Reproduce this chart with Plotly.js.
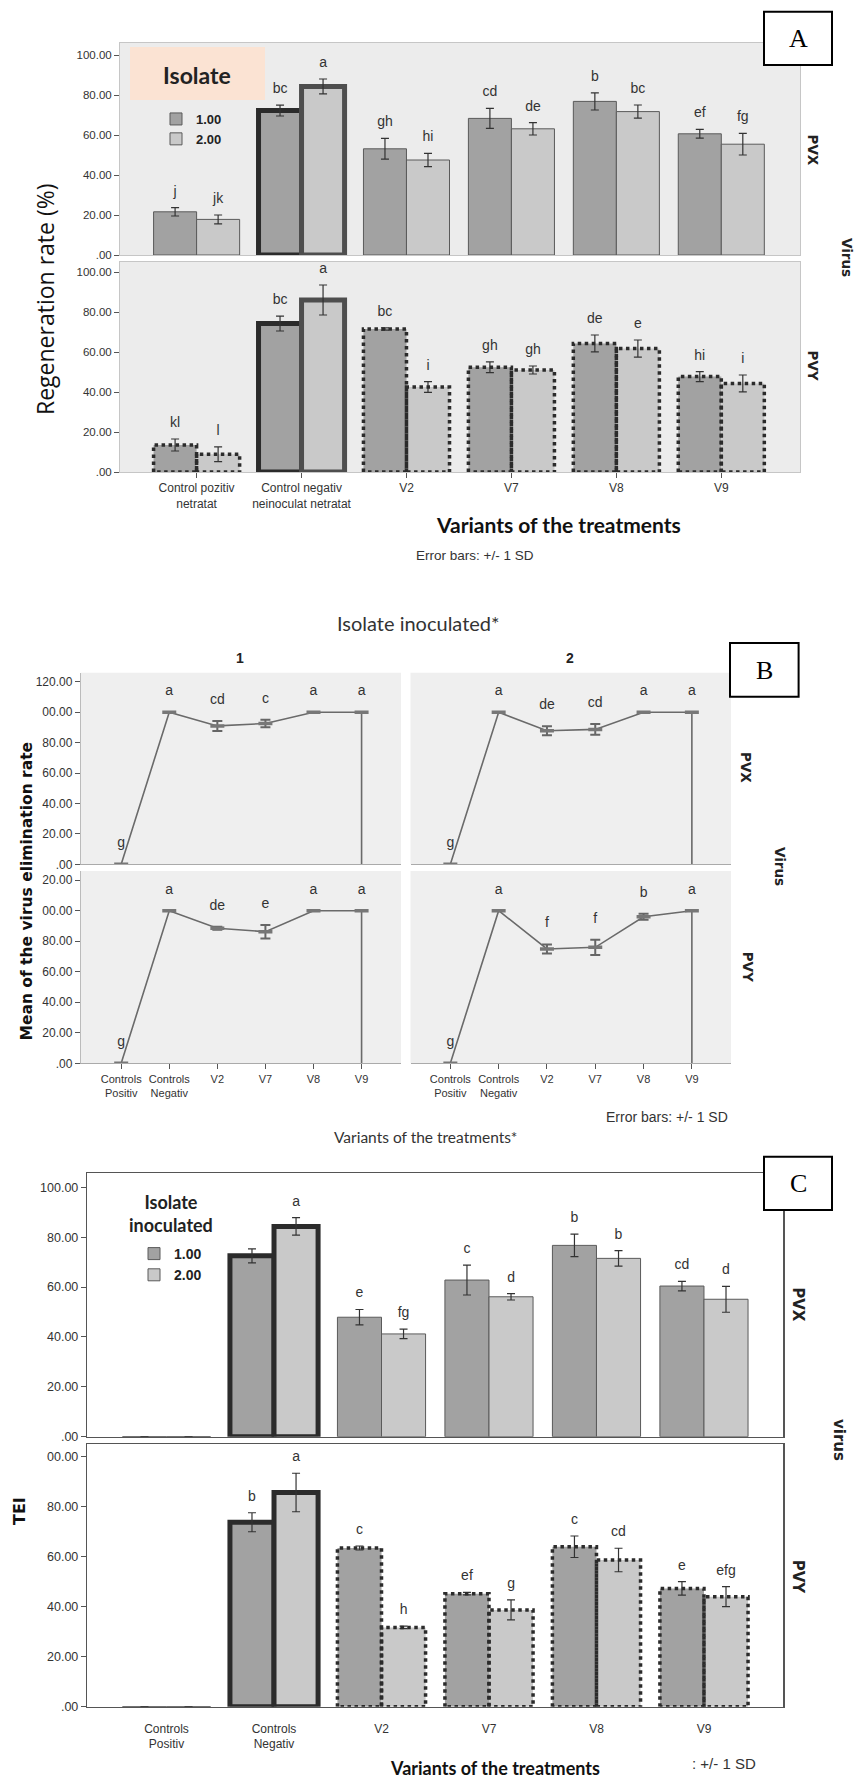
<!DOCTYPE html>
<html><head><meta charset="utf-8">
<script src="https://cdn.plot.ly/plotly-3.0.1.min.js"></script>
<style>html,body{margin:0;padding:0;background:#fff}#chart{width:856px;height:1778px}</style>
</head><body><div id="chart"></div>
<script>
// ---------------- DATA ----------------
const categoriesA = ['Control pozitiv<br>netratat', 'Control negativ<br>neinoculat netratat', 'V2', 'V7', 'V8', 'V9'];
const categoriesBC = ['Controls<br>Positiv', 'Controls<br>Negativ', 'V2', 'V7', 'V8', 'V9'];
const isolateNames = ['1.00', '2.00'];

// Panel A: Regeneration rate (%)
const regenPVX_iso1 = [21.6, 72.2, 53.1, 68.3, 76.8, 60.6];
const regenPVX_iso1_sd = [2.1, 2.7, 5.2, 5.0, 4.3, 2.2];
const regenPVX_iso2 = [17.8, 84.3, 47.5, 63.1, 71.7, 55.4];
const regenPVX_iso2_sd = [2.2, 3.7, 3.3, 3.1, 3.3, 5.4];
const regenPVX_letters1 = ['j', 'bc', 'gh', 'cd', 'b', 'ef'];
const regenPVX_letters2 = ['jk', 'a', 'hi', 'de', 'bc', 'fg'];

const regenPVY_iso1 = [13.5, 74.2, 71.5, 52.4, 64.3, 47.7];
const regenPVY_iso1_sd = [3.0, 3.7, 0.6, 2.7, 4.2, 2.5];
const regenPVY_iso2 = [8.9, 86.0, 42.5, 51.0, 61.7, 44.3];
const regenPVY_iso2_sd = [3.7, 7.5, 2.7, 2.0, 4.3, 4.2];
const regenPVY_letters1 = ['kl', 'bc', 'bc', 'gh', 'de', 'hi'];
const regenPVY_letters2 = ['l', 'a', 'i', 'gh', 'e', 'i'];

// Panel B: Mean of the virus elimination rate
const elimPVX_iso1 = [0, 100, 91.0, 92.6, 100, 100];
const elimPVX_iso1_sd = [0, 0, 3.3, 2.4, 0, 0];
const elimPVX_iso2 = [0, 100, 87.8, 88.7, 100, 100];
const elimPVX_iso2_sd = [0, 0, 3.0, 3.5, 0, 0];
const elimPVY_iso1 = [0, 100, 88.5, 86.2, 100, 100];
const elimPVY_iso1_sd = [0, 0, 1.0, 4.4, 0, 0];
const elimPVY_iso2 = [0, 100, 74.9, 76.0, 96.0, 100];
const elimPVY_iso2_sd = [0, 0, 3.0, 5.0, 2.0, 0];
const elimPVX_letters1 = ['g', 'a', 'cd', 'c', 'a', 'a'];
const elimPVX_letters2 = ['g', 'a', 'de', 'cd', 'a', 'a'];
const elimPVY_letters1 = ['g', 'a', 'de', 'e', 'a', 'a'];
const elimPVY_letters2 = ['g', 'a', 'f', 'f', 'b', 'a'];

// Panel C: TEI
const teiPVX_iso1 = [0, 72.5, 47.9, 62.8, 76.7, 60.4];
const teiPVX_iso1_sd = [0, 2.8, 3.1, 6.0, 4.5, 1.9];
const teiPVX_iso2 = [0, 84.3, 41.2, 56.1, 71.5, 55.1];
const teiPVX_iso2_sd = [0, 3.5, 1.9, 1.3, 3.1, 5.2];
const teiPVX_letters1 = ['', '', 'e', 'c', 'b', 'cd'];
const teiPVX_letters2 = ['', 'a', 'fg', 'd', 'b', 'd'];
const teiPVY_iso1 = [0, 73.8, 63.5, 45.2, 64.0, 47.3];
const teiPVY_iso1_sd = [0, 3.8, 0.8, 0.5, 4.3, 2.7];
const teiPVY_iso2 = [0, 85.7, 31.7, 38.7, 58.7, 44.0];
const teiPVY_iso2_sd = [0, 7.7, 0.5, 4.0, 4.7, 4.0];
const teiPVY_letters1 = ['', 'b', 'c', 'ef', 'c', 'e'];
const teiPVY_letters2 = ['', 'a', 'h', 'g', 'cd', 'efg'];

// Axis tick labels
const yTicksA = [0, 20, 40, 60, 80, 100];
const yTickTextA = ['.00', '20.00', '40.00', '60.00', '80.00', '100.00'];
const yTicksB = [0, 20, 40, 60, 80, 100, 120];
const yTickTextBTop = ['.00', '20.00', '40.00', '60.00', '80.00', '00.00', '120.00'];
const yTickTextBBottom = ['.00', '20.00', '40.00', '60.00', '80.00', '00.00', '20.00'];
const yTickTextCTop = ['.00', '20.00', '40.00', '60.00', '80.00', '100.00'];
const yTickTextCBottom = ['.00', '20.00', '40.00', '60.00', '80.00', '00.00'];

// ---------------- STYLE / HELPERS ----------------
const W = 856, H = 1778;
const px = v => v / W;
const py = v => 1 - v / H;
const BW = 0.41;
const idx = categoriesA.map((_, i) => i);
const FILL = ['#a2a2a2', '#c9c9c9'];
const LS = 'Liberation Sans, Arial, sans-serif';
const DJB = 'DejaVu Sans, Verdana, sans-serif';

function letterTrace(xa, ya, xs, ys, letters, gap) {
  return {type: 'scatter', mode: 'markers+text', x: xs, y: ys, text: letters, textposition: 'top center',
    marker: {size: gap, color: 'rgba(0,0,0,0)'},
    textfont: {family: LS, size: 14, color: '#333'}, xaxis: xa, yaxis: ya, showlegend: false, hoverinfo: 'skip'};
}

function barPanel(xa, ya, series, opts) {
  const traces = [];
  series.forEach((s, k) => {
    const off = k === 0 ? -BW : 0;
    const lw = idx.map(i => opts.thick.includes(i) ? 5 : (opts.dotted.includes(i) ? 0 : 1));
    const lc = idx.map(i => opts.thick.includes(i) ? opts.thickColor[k] : '#5a5a5a');
    traces.push({
      type: 'bar', x: idx, y: s.vals, xaxis: xa, yaxis: ya, offset: off, width: BW, name: s.name,
      marker: {color: FILL[k], line: {color: lc, width: lw}},
      error_y: {type: 'data', array: s.sd, visible: true, color: '#333', thickness: 1.2, width: 4},
      showlegend: !!opts.legend, legend: opts.legend || 'legend', hoverinfo: 'skip'
    });
  });
  series.forEach((s, k) => {
    const xs = [], ys = [];
    opts.dotted.forEach(i => {
      const x0 = i + (k === 0 ? -BW : 0), x1 = x0 + BW, v = s.vals[i];
      xs.push(x0, x0, x1, x1, x0, null);
      ys.push(0, v, v, 0, 0, null);
    });
    if (xs.length) traces.push({
      type: 'scatter', mode: 'lines', x: xs, y: ys, xaxis: xa, yaxis: ya,
      line: {color: '#2b2b2b', width: 3.5, dash: 'dot'}, showlegend: false, hoverinfo: 'skip'
    });
  });
  series.forEach((s, k) => {
    traces.push(letterTrace(xa, ya, idx.map(i => i + (k === 0 ? -BW / 2 : BW / 2)),
      s.vals.map((v, i) => v + s.sd[i]), s.letters, 12));
  });
  return traces;
}

function linePanel(xa, ya, vals, sd, letters) {
  const last = idx.length - 1;
  return [
    {type: 'scatter', mode: 'lines', x: [idx[last], idx[last]], y: [vals[last], 0], xaxis: xa, yaxis: ya,
     line: {color: '#6a6a6a', width: 1.6}, showlegend: false, hoverinfo: 'skip'},
    {type: 'scatter', mode: 'lines+markers', x: idx, y: vals, xaxis: xa, yaxis: ya,
     line: {color: '#6a6a6a', width: 1.6},
     marker: {symbol: 'line-ew', size: 10, color: '#777', line: {color: '#777', width: 3.5}},
     error_y: {type: 'data', array: sd, visible: true, color: '#666', thickness: 2, width: 5},
     showlegend: false, hoverinfo: 'skip'},
    letterTrace(xa, ya, idx, vals.map((v, i) => v + sd[i]), letters, 20)
  ];
}

const traces = [].concat(
  barPanel('x', 'y', [
    {vals: regenPVX_iso1, sd: regenPVX_iso1_sd, letters: regenPVX_letters1, name: isolateNames[0]},
    {vals: regenPVX_iso2, sd: regenPVX_iso2_sd, letters: regenPVX_letters2, name: isolateNames[1]}
  ], {thick: [1], dotted: [], thickColor: ['#2b2b2b', '#4e4e4e'], legend: 'legend'}),
  barPanel('x2', 'y2', [
    {vals: regenPVY_iso1, sd: regenPVY_iso1_sd, letters: regenPVY_letters1, name: isolateNames[0]},
    {vals: regenPVY_iso2, sd: regenPVY_iso2_sd, letters: regenPVY_letters2, name: isolateNames[1]}
  ], {thick: [1], dotted: [0, 2, 3, 4, 5], thickColor: ['#2b2b2b', '#4e4e4e']}),
  linePanel('x3', 'y3', elimPVX_iso1, elimPVX_iso1_sd, elimPVX_letters1),
  linePanel('x4', 'y4', elimPVX_iso2, elimPVX_iso2_sd, elimPVX_letters2),
  linePanel('x5', 'y5', elimPVY_iso1, elimPVY_iso1_sd, elimPVY_letters1),
  linePanel('x6', 'y6', elimPVY_iso2, elimPVY_iso2_sd, elimPVY_letters2),
  barPanel('x7', 'y7', [
    {vals: teiPVX_iso1, sd: teiPVX_iso1_sd, letters: teiPVX_letters1, name: isolateNames[0]},
    {vals: teiPVX_iso2, sd: teiPVX_iso2_sd, letters: teiPVX_letters2, name: isolateNames[1]}
  ], {thick: [1], dotted: [], thickColor: ['#2b2b2b', '#2b2b2b'], legend: 'legend2'}),
  barPanel('x8', 'y8', [
    {vals: teiPVY_iso1, sd: teiPVY_iso1_sd, letters: teiPVY_letters1, name: isolateNames[0]},
    {vals: teiPVY_iso2, sd: teiPVY_iso2_sd, letters: teiPVY_letters2, name: isolateNames[1]}
  ], {thick: [1], dotted: [2, 3, 4, 5], thickColor: ['#2b2b2b', '#2b2b2b']})
);

// ---------------- AXES ----------------
function xAx(d0, d1, range, anchor, o) {
  return Object.assign({domain: [px(d0), px(d1)], range: range, anchor: anchor, tickvals: idx,
    showgrid: false, zeroline: false, fixedrange: true, ticks: '', showticklabels: false}, o || {});
}
function yAx(top, bot, range, anchor, o) {
  return Object.assign({domain: [py(bot), py(top)], range: range, anchor: anchor,
    showgrid: false, zeroline: false, fixedrange: true, ticks: 'outside', ticklen: 5, tickcolor: '#555'}, o || {});
}
const tickFontA = {family: LS, size: 11.5, color: '#333'};
const tickFontB = {family: LS, size: 12, color: '#333'};
const tickFontC = {family: LS, size: 12.5, color: '#333'};
const frameA = {showline: true, mirror: true, linecolor: '#c6c6c6', linewidth: 1};
const frameC = {showline: true, mirror: true, linecolor: '#555', linewidth: 1.5};

const layout = {
  width: W, height: H, margin: {l: 0, r: 0, t: 0, b: 0},
  paper_bgcolor: '#fff', plot_bgcolor: 'rgba(0,0,0,0)', barmode: 'overlay', showlegend: true,
  font: {family: LS, color: '#333'},
  xaxis: xAx(120, 800, [-0.73, 5.75], 'y', frameA),
  yaxis: yAx(43, 255, [0, 106], 'x', Object.assign({tickvals: yTicksA, ticktext: yTickTextA, tickfont: tickFontA}, frameA)),
  xaxis2: xAx(120, 800, [-0.73, 5.75], 'y2', Object.assign({ticks: 'outside', ticklen: 5, tickcolor: '#555',
    showticklabels: true, ticktext: categoriesA, tickfont: {family: LS, size: 12, color: '#333'}}, frameA)),
  yaxis2: yAx(262, 472, [0, 105], 'x2', Object.assign({tickvals: yTicksA, ticktext: yTickTextA, tickfont: tickFontA}, frameA)),

  xaxis3: xAx(80.8, 401, [-0.84, 5.82], 'y3', {showline: true, linecolor: '#aaa'}),
  yaxis3: yAx(672.7, 864.3, [0, 126], 'x3', {tickvals: yTicksB, ticktext: yTickTextBTop, tickfont: tickFontB, showline: true, linecolor: '#bbb'}),
  xaxis4: xAx(410.5, 731, [-0.825, 5.81], 'y4', {showline: true, linecolor: '#aaa'}),
  yaxis4: yAx(672.7, 864.3, [0, 126], 'x4', {ticks: '', showticklabels: false}),
  xaxis5: xAx(80.8, 401, [-0.84, 5.82], 'y5', {showline: true, linecolor: '#aaa', ticks: 'outside', ticklen: 5,
    tickcolor: '#555', showticklabels: true, ticktext: categoriesBC, tickfont: {family: LS, size: 11, color: '#333'}}),
  yaxis5: yAx(871, 1063.3, [0, 126], 'x5', {tickvals: yTicksB, ticktext: yTickTextBBottom, tickfont: tickFontB, showline: true, linecolor: '#bbb'}),
  xaxis6: xAx(410.5, 731, [-0.825, 5.81], 'y6', {showline: true, linecolor: '#aaa', ticks: 'outside', ticklen: 5,
    tickcolor: '#555', showticklabels: true, ticktext: categoriesBC, tickfont: {family: LS, size: 11, color: '#333'}}),
  yaxis6: yAx(871, 1063.3, [0, 126], 'x6', {ticks: '', showticklabels: false}),

  xaxis7: xAx(87.3, 783.3, [-0.737, 5.738], 'y7', frameC),
  yaxis7: yAx(1173.3, 1436.7, [0, 105.6], 'x7', Object.assign({tickvals: yTicksA, ticktext: yTickTextCTop, tickfont: tickFontC}, frameC)),
  xaxis8: xAx(87.3, 783.3, [-0.737, 5.738], 'y8', Object.assign({showticklabels: true, ticktext: categoriesBC,
    ticklabelstandoff: 10, tickfont: {family: LS, size: 12, color: '#333'}}, frameC)),
  yaxis8: yAx(1444, 1706.7, [0, 105.1], 'x8', Object.assign({tickvals: yTicksA, ticktext: yTickTextCBottom, tickfont: tickFontC}, frameC)),

  legend: {x: px(156), y: py(104), xanchor: 'left', yanchor: 'top', bgcolor: 'rgba(0,0,0,0)',
    font: {family: LS, size: 13, color: '#222', weight: 'bold'}, tracegroupgap: 0, itemclick: false, itemdoubleclick: false},
  legend2: {x: px(134), y: py(1238), xanchor: 'left', yanchor: 'top', bgcolor: 'rgba(0,0,0,0)',
    font: {family: LS, size: 14, color: '#222', weight: 'bold'}, tracegroupgap: 0, itemclick: false, itemdoubleclick: false},
  shapes: [], annotations: []
};

// panel backgrounds
[['x', 'y', '#ececec'], ['x2', 'y2', '#ececec'], ['x3', 'y3', '#efefef'], ['x4', 'y4', '#efefef'],
 ['x5', 'y5', '#efefef'], ['x6', 'y6', '#efefef']].forEach(([xa, ya, c]) => {
  layout.shapes.push({type: 'rect', xref: xa + ' domain', yref: ya + ' domain', x0: 0, x1: 1, y0: 0, y1: 1,
    fillcolor: c, line: {width: 0}, layer: 'below'});
});
function box(x0, y0, x1, y1, fill, lineW, lineC) {
  layout.shapes.push({type: 'rect', xref: 'paper', yref: 'paper', x0: px(x0), x1: px(x1), y0: py(y1), y1: py(y0),
    fillcolor: fill, line: {width: lineW, color: lineC || '#000'}, layer: 'above'});
}
function ann(text, x, y, font, o) {
  layout.annotations.push(Object.assign({text: text, xref: 'paper', yref: 'paper', x: px(x), y: py(y),
    xanchor: 'center', yanchor: 'middle', showarrow: false, font: font}, o || {}));
}
// Panel A decorations
box(764, 11.7, 832, 65, '#fff', 2);
ann('A', 798, 38.5, {family: 'Liberation Serif, serif', size: 26, color: '#000'});
layout.shapes.push({type: 'rect', xref: 'paper', yref: 'paper', x0: px(130), x1: px(265), y0: py(100), y1: py(47),
  fillcolor: '#fbe3d3', line: {width: 0}, layer: 'above'});
ann('Isolate', 197, 75, {family: 'Lato, sans-serif', size: 23, color: '#222', weight: 'bold'});
ann('PVX', 812.5, 150, {family: DJB, size: 13.5, color: '#222', weight: 'bold'}, {textangle: 90});
ann('PVY', 812.5, 365, {family: DJB, size: 13.5, color: '#222', weight: 'bold'}, {textangle: 90});
ann('Virus', 847, 257, {family: DJB, size: 13.5, color: '#222', weight: 'bold'}, {textangle: 90});
ann('Regeneration rate (%)', 45, 300, {family: 'Open Sans, sans-serif', size: 23, color: '#111'}, {textangle: -90});
ann('Variants of the treatments', 558, 525, {family: 'Lato, sans-serif', size: 21, color: '#111', weight: 'bold'});
ann('Error bars: +/- 1 SD', 475, 556, {family: LS, size: 13.5, color: '#333'});

// Panel B decorations
ann('Isolate inoculated*', 418, 623, {family: 'Lato, sans-serif', size: 20, color: '#333'});
ann('1', 240, 658, {family: LS, size: 14, color: '#222', weight: 'bold'});
ann('2', 570, 658, {family: LS, size: 14, color: '#222', weight: 'bold'});
box(730, 643, 798.6, 696.7, '#fff', 2);
ann('B', 764.3, 670, {family: 'Liberation Serif, serif', size: 26, color: '#000'});
ann('PVX', 746.5, 767.5, {family: DJB, size: 13.5, color: '#222', weight: 'bold'}, {textangle: 90});
ann('PVY', 748, 966.7, {family: DJB, size: 13.5, color: '#222', weight: 'bold'}, {textangle: 90});
ann('Virus', 780.7, 866.7, {family: DJB, size: 13.5, color: '#222', weight: 'bold'}, {textangle: 90});
ann('Mean of the virus elimination rate', 26.5, 891, {family: DJB, size: 15.5, color: '#111', weight: 'bold'}, {textangle: -90});
ann('Error bars: +/- 1 SD', 667, 1117, {family: LS, size: 14, color: '#333'});
ann('Variants of the treatments*', 425, 1137, {family: 'Lato, sans-serif', size: 15.5, color: '#333'});

// Panel C decorations
box(764, 1156.7, 832, 1210, '#fff', 2);
ann('C', 798, 1183.3, {family: 'Liberation Serif, serif', size: 26, color: '#000'});
ann('Isolate<br>inoculated', 171, 1213, {family: 'Lato, sans-serif', size: 18, color: '#222', weight: 'bold'});
ann('PVX', 797.8, 1305, {family: DJB, size: 15, color: '#222', weight: 'bold'}, {textangle: 90});
ann('PVY', 798, 1576.7, {family: DJB, size: 15, color: '#222', weight: 'bold'}, {textangle: 90});
ann('virus', 839, 1440, {family: DJB, size: 15, color: '#222', weight: 'bold'}, {textangle: 90});
ann('TEI', 19, 1511, {family: DJB, size: 16, color: '#111', weight: 'bold'}, {textangle: -90});
ann('Variants of the treatments', 494.5, 1768, {family: 'Lato, sans-serif', size: 18, color: '#111', weight: 'bold'});
ann(': +/- 1 SD', 724, 1763, {family: LS, size: 15, color: '#333'});

Plotly.newPlot('chart', traces, layout, {staticPlot: true, displayModeBar: false});
</script></body></html>
